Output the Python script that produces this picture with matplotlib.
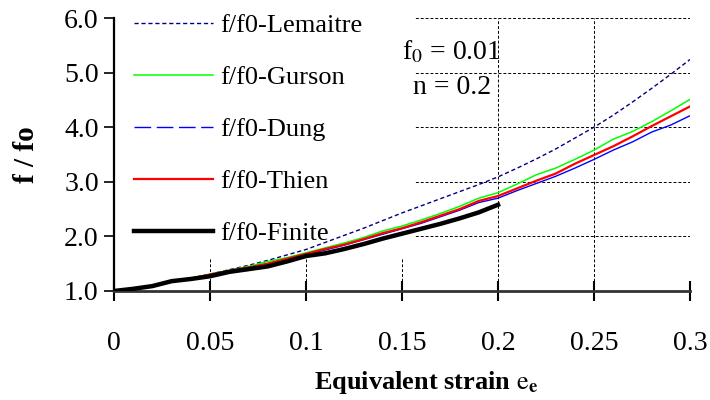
import matplotlib
matplotlib.use("Agg")
import matplotlib.pyplot as plt
from matplotlib.lines import Line2D
from matplotlib.patches import Rectangle

plt.rcParams['font.family'] = ['Liberation Serif', 'DejaVu Serif']
plt.rcParams['mathtext.fontset'] = 'stix'

# deformacion equivalente
strain = [0.00, 0.01, 0.02, 0.03, 0.04, 0.05, 0.06, 0.07, 0.08, 0.09, 0.10,
          0.11, 0.12, 0.13, 0.14, 0.15, 0.16, 0.17, 0.18, 0.19, 0.20,
          0.21, 0.22, 0.23, 0.24, 0.25, 0.26, 0.27, 0.28, 0.29, 0.30]

lemaitre = [1.00, 1.04, 1.09, 1.16, 1.23, 1.31, 1.39, 1.47, 1.56, 1.66, 1.76,
            1.89, 2.02, 2.15, 2.29, 2.43, 2.56, 2.69, 2.82, 2.95, 3.09,
            3.25, 3.42, 3.60, 3.80, 4.00, 4.22, 4.46, 4.71, 4.97, 5.24]
gurson = [1.00, 1.04, 1.09, 1.17, 1.23, 1.31, 1.38, 1.45, 1.54, 1.61, 1.70,
          1.79, 1.88, 1.98, 2.10, 2.19, 2.30, 2.42, 2.55, 2.70, 2.80,
          2.96, 3.13, 3.25, 3.41, 3.58, 3.78, 3.92, 4.10, 4.30, 4.51]
dung = [1.00, 1.04, 1.09, 1.17, 1.23, 1.30, 1.37, 1.43, 1.50, 1.58, 1.67,
        1.75, 1.84, 1.94, 2.04, 2.14, 2.24, 2.36, 2.48, 2.62, 2.70,
        2.84, 2.97, 3.10, 3.25, 3.41, 3.58, 3.73, 3.91, 4.04, 4.21]
thien = [1.00, 1.04, 1.09, 1.17, 1.23, 1.30, 1.37, 1.43, 1.50, 1.59, 1.68,
         1.77, 1.85, 1.95, 2.06, 2.15, 2.26, 2.38, 2.50, 2.65, 2.74,
         2.88, 3.02, 3.15, 3.33, 3.49, 3.65, 3.83, 4.02, 4.20, 4.38]

strain_fin = strain[:21]
finite = [1.00, 1.04, 1.09, 1.18, 1.22, 1.27, 1.35, 1.40, 1.45, 1.54, 1.64,
          1.69, 1.77, 1.86, 1.96, 2.05, 2.14, 2.23, 2.33, 2.44, 2.58]

xticks = [0, 0.05, 0.1, 0.15, 0.2, 0.25, 0.3]
xlabels = ['0', '0.05', '0.1', '0.15', '0.2', '0.25', '0.3']
yticks = [1.0, 2.0, 3.0, 4.0, 5.0, 6.0]
ylabels = ['1.0', '2.0', '3.0', '4.0', '5.0', '6.0']

fig = plt.figure(figsize=(7.1, 4.0), dpi=100)
ax = fig.add_axes([114/710, 1 - 291/400, 576/710, 273/400])

ax.plot(strain, lemaitre, color='#000080', lw=1.0, linestyle=(0, (3, 2)), zorder=3)
ax.plot(strain, gurson, color='#00ff00', lw=1.1, zorder=3)
ax.plot(strain, dung, color='#0000ff', lw=1.0, zorder=3)
ax.plot(strain, thien, color='#ff0000', lw=1.6, zorder=4)
ax.plot(strain_fin, finite, color='black', lw=3.2, zorder=5)

ax.set_xlim(0, 0.3)
ax.set_ylim(1.0, 6.0)
ax.set_xticks(xticks)
ax.set_xticklabels(xlabels)
ax.set_yticks(yticks)
ax.set_yticklabels(ylabels)

ax.set_axisbelow(True)
ax.grid(True, color='black', linestyle=(0, (3, 2)), lw=0.7)
# recuadro blanco de la leyenda (tapa la cuadricula)
ax.add_patch(Rectangle((-0.01, 1.6), 0.167, 4.6, facecolor='white',
                       edgecolor='none', zorder=1, clip_on=True))

for s in ['top', 'right']:
    ax.spines[s].set_visible(False)
ax.spines['left'].set_linewidth(1.6)
ax.spines['bottom'].set_linewidth(2.0)
ax.spines['bottom'].set_color('#333333')

ax.tick_params(axis='x', direction='inout', length=14, width=1.5, pad=22, labelsize=20)
ax.tick_params(axis='y', direction='out', length=7, width=1.2, pad=4, labelsize=20)

ax.set_xlabel(r'Equivalent strain $\mathrm{e}_{\mathbf{e}}$', fontsize=19, fontweight='bold')
ax.xaxis.set_label_coords(0.542, -0.287)
ax.set_ylabel('f / fo', fontsize=21, fontweight='bold')
ax.yaxis.set_label_coords(-0.128, 0.5)

ax.text(0.176, 5.38, r'f$_0$ = 0.01', fontsize=20, ha='center', va='center')
ax.text(0.176, 4.72, 'n = 0.2', fontsize=20, ha='center', va='center')

handles = [
    Line2D([], [], color='#000080', lw=1.0, linestyle=(0, (3, 2))),
    Line2D([], [], color='#00ff00', lw=1.1),
    Line2D([], [], color='#0000ff', lw=1.0, linestyle=(0, (12, 4))),
    Line2D([], [], color='#ff0000', lw=1.6),
    Line2D([], [], color='black', lw=3.2),
]
names = ['f/f0-Lemaitre', 'f/f0-Gurson', 'f/f0-Dung', 'f/f0-Thien', 'f/f0-Finite']
fig.legend(handles, names, loc='upper left', bbox_to_anchor=(134/710, 0.965),
           frameon=False, fontsize=19, borderpad=0, borderaxespad=0,
           handlelength=3.0, handletextpad=0.25, labelspacing=1.08)

fig.savefig('out.png', dpi=100)
